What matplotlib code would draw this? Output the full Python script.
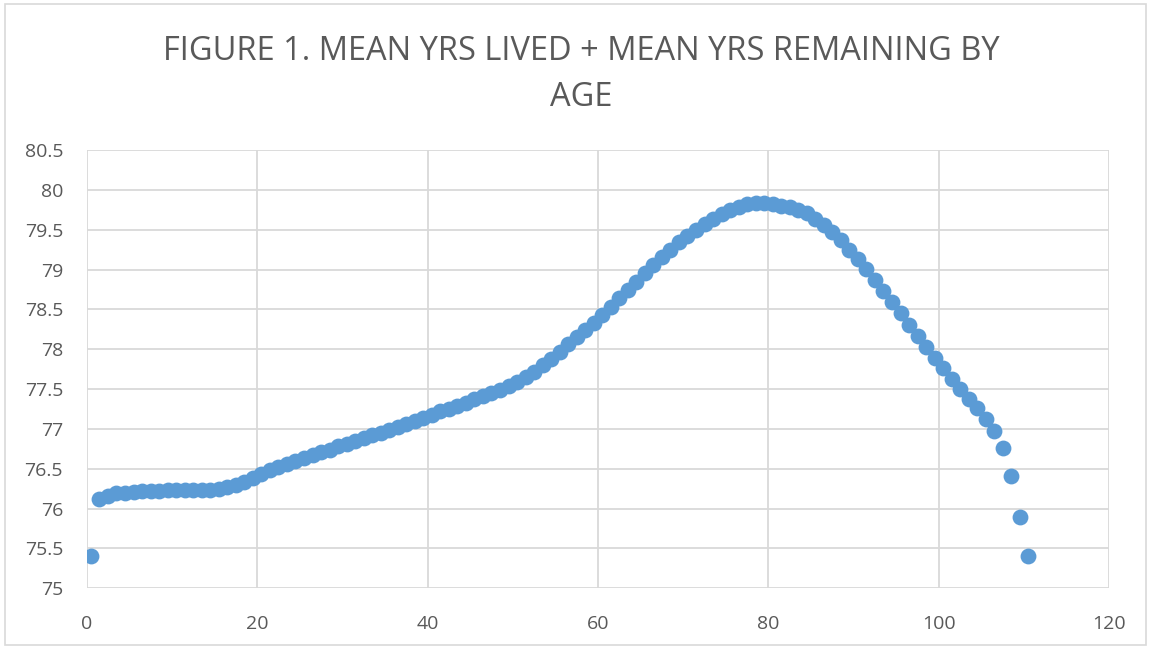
import matplotlib
matplotlib.use("Agg")
import matplotlib.pyplot as plt
from matplotlib.patches import Rectangle
import numpy as np

ages = [a + 0.5 for a in range(111)]
values = [
    75.40, 76.12, 76.16, 76.19, 76.20, 76.21, 76.22, 76.22, 76.22, 76.23,
    76.23, 76.23, 76.23, 76.23, 76.24, 76.25, 76.27, 76.30, 76.34, 76.39,
    76.44, 76.48, 76.52, 76.56, 76.60, 76.64, 76.67, 76.71, 76.74, 76.78,
    76.81, 76.85, 76.88, 76.92, 76.95, 76.99, 77.03, 77.06, 77.10, 77.14,
    77.18, 77.22, 77.25, 77.29, 77.33, 77.37, 77.41, 77.45, 77.49, 77.54,
    77.59, 77.65, 77.72, 77.80, 77.88, 77.97, 78.06, 78.15, 78.24, 78.33,
    78.43, 78.53, 78.64, 78.74, 78.85, 78.96, 79.06, 79.16, 79.25, 79.34,
    79.42, 79.50, 79.57, 79.64, 79.70, 79.75, 79.79, 79.82, 79.83, 79.83,
    79.82, 79.80, 79.78, 79.75, 79.71, 79.64, 79.56, 79.47, 79.37, 79.24,
    79.13, 79.01, 78.87, 78.73, 78.59, 78.45, 78.30, 78.17, 78.03, 77.89,
    77.76, 77.63, 77.50, 77.38, 77.26, 77.12, 76.98, 76.76, 76.41, 75.89,
    75.40,
]
x_ticks = [0, 20, 40, 60, 80, 100, 120]
y_ticks = [75, 75.5, 76, 76.5, 77, 77.5, 78, 78.5, 79, 79.5, 80, 80.5]
y_tick_labels = ["75", "75.5", "76", "76.5", "77", "77.5", "78", "78.5", "79", "79.5", "80", "80.5"]
title = "FIGURE 1. MEAN YRS LIVED + MEAN YRS REMAINING BY\nAGE"

plt.rcParams['font.family'] = ['Open Sans', 'DejaVu Sans']
text_color = "#595959"
grid_color = "#D9D9D9"

fig = plt.figure(figsize=(11.51, 6.48), dpi=100)
fig.patches.append(Rectangle((0.004, 0.004), 0.992, 0.99, transform=fig.transFigure,
                             fill=False, edgecolor=grid_color, linewidth=1.2))
ax = fig.add_axes([0.0753, 0.0921, 0.8885, 0.6764])
ax.scatter(ages, values, s=130, color="#5B9BD5", zorder=3, linewidths=0)
ax.set_xlim(0, 120)
ax.set_ylim(75, 80.5)
ax.set_xticks(x_ticks)
ax.set_yticks(y_ticks)
ax.set_yticklabels(y_tick_labels)
ax.tick_params(length=0, labelsize=14, colors=text_color)
ax.tick_params(axis='y', pad=17)
ax.tick_params(axis='x', pad=19)
ax.grid(True, color=grid_color, linewidth=1.3)
ax.set_axisbelow(True)
for sp in ax.spines.values():
    sp.set_visible(False)

fig.text(0.505, 0.885, title, ha='center', va='center', fontsize=23.5, color=text_color,
         linespacing=1.5, family=['Open Sans', 'DejaVu Sans'])

fig.savefig("out.png", dpi=100)
